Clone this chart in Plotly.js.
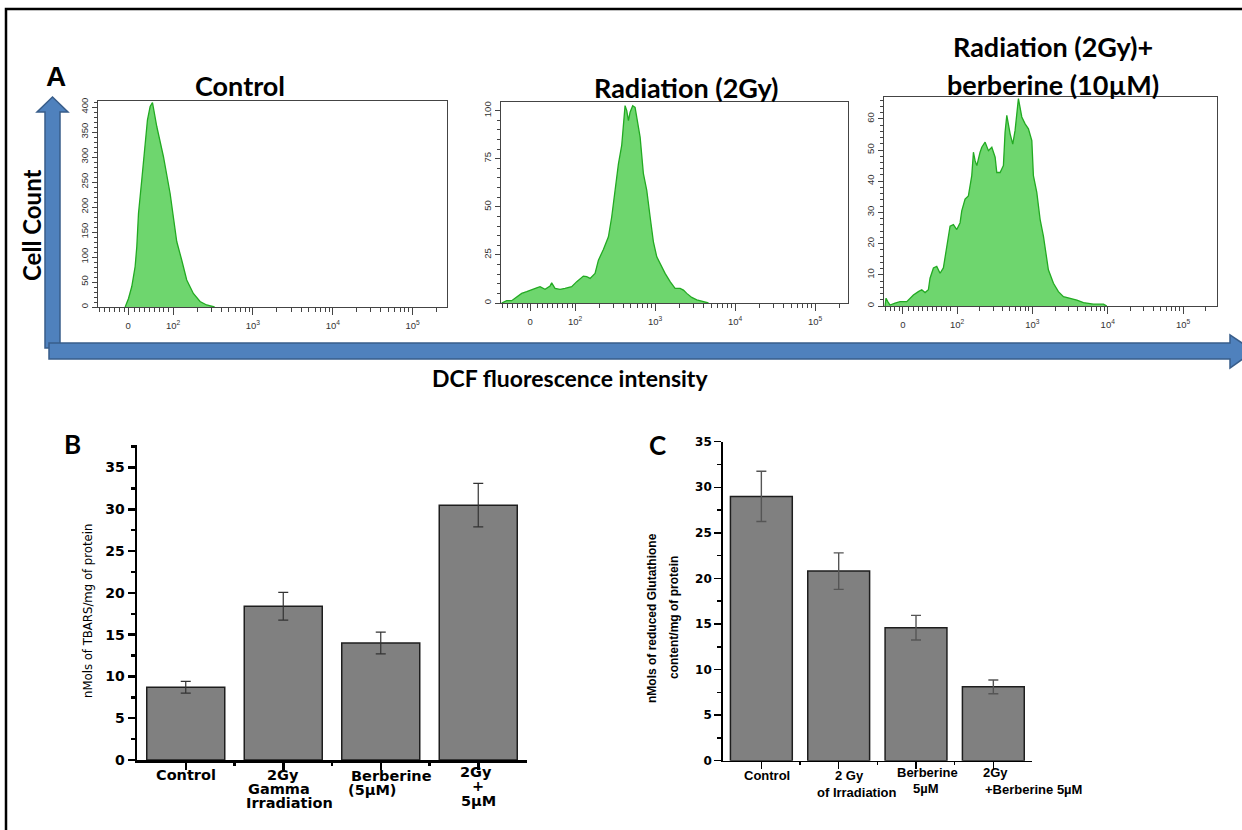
<!DOCTYPE html>
<html><head><meta charset="utf-8">
<script src="https://cdn.plot.ly/plotly-3.0.1.min.js"></script>
<style>body{margin:0;background:#fff}#g{width:1242px;height:830px}</style>
</head><body><div id="g"></div>
<script>
// ---------- DATA ----------
// Panel A: DCF histograms. x = position on the logicle display axis (decades), y = cell count
const ctrlX = [1.40,1.442,1.483,1.525,1.546,1.567,1.608,1.65,1.679,1.713,1.742,1.796,1.879,1.963,2.004,2.046,2.108,2.171,2.254,2.338,2.42,2.48,2.52];
const ctrlY = [0,17,41,81,121,187,254,327,374,401,409,361,301,227,174,131,94,54,27,11,4,1,0];

const radX = [1.083,1.146,1.208,1.271,1.333,1.396,1.458,1.521,1.563,1.625,1.688,1.708,1.75,1.813,1.875,1.958,2.021,2.104,2.146,2.188,2.25,2.292,2.354,2.417,2.458,2.5,2.542,2.583,2.604,2.625,2.646,2.667,2.688,2.72,2.75,2.79,2.813,2.854,2.896,2.938,2.979,3.021,3.083,3.125,3.188,3.25,3.313,3.354,3.396,3.458,3.521,3.604,3.667];
const radY = [0,1.2,1.2,2.9,5.0,5.9,6.7,7.9,8.5,7.1,8.8,10.5,7.6,7.1,7.6,8.5,11.1,14.0,13.7,12.8,15.4,22.3,27.8,34.4,44.7,58.5,72.3,81.9,93.1,102.6,100.0,94.8,99.2,102.6,101.7,93.1,86.2,67.2,58.5,44.7,31.8,24.0,18.9,15.4,11.1,7.6,7.6,6.7,5.0,2.9,1.6,0.7,0];

const comboX = [1.044,1.057,1.08,1.11,1.177,1.243,1.332,1.376,1.42,1.486,1.531,1.575,1.619,1.641,1.686,1.73,1.774,1.818,1.863,1.907,1.951,1.996,2.04,2.062,2.106,2.15,2.195,2.217,2.239,2.262,2.305,2.328,2.372,2.416,2.461,2.505,2.527,2.571,2.615,2.637,2.66,2.704,2.739,2.77,2.814,2.859,2.903,2.947,2.992,3.013,3.058,3.102,3.146,3.212,3.279,3.345,3.412,3.5,3.59,3.677,3.81,3.943,3.988];
const comboY = [0,2.5,1.4,0.3,0.9,1.4,1.4,2.5,3.5,4.6,5.2,4.3,5.2,8.9,12.2,12.7,10.5,12.2,19.1,25.6,26.1,24.5,26.7,30.5,34.3,35.3,41.8,49.3,46.6,45.0,49.3,50.9,52.5,49.8,50.9,47.7,42.8,42.8,45.0,55.7,61.1,55.2,51.9,56.3,66.5,60.6,58.4,56.8,53.0,41.8,36.4,27.8,22.4,11.6,7.3,4.6,3.0,2.5,1.9,1.1,0.6,0.6,0];

const histTitles = ['Control', 'Radiation (2Gy)', 'Radiation (2Gy)+', 'berberine (10µM)'];
const histTickText = ['0', '10<sup>2</sup>', '10<sup>3</sup>', '10<sup>4</sup>', '10<sup>5</sup>'];

// Panel B: TBARS
const catB = ['Control', '2Gy<br>Gamma<br>Irradiation', 'Berberine<br>(5µM)', '2Gy<br>+<br>5µM'];
const tbars = [8.7, 18.4, 14.0, 30.5];
const tbarsErr = [0.7, 1.65, 1.3, 2.6];

// Panel C: reduced glutathione
const catC = ['Control', '2 Gy<br>of Irradiation', 'Berberine<br>5µM', '2Gy<br>+Berberine 5µM'];
const gsh = [29.0, 20.8, 14.6, 8.1];
const gshErr = [2.75, 2.0, 1.35, 0.75];
const titleC = ['nMols of reduced Glutathione', 'content/mg of protein'];

// ---------- LAYOUT HELPERS ----------
const W = 1242, H = 830;
const PX = x => x / W, PY = y => 1 - y / H;
const pt = (x, y) => PX(x).toFixed(5) + ',' + PY(y).toFixed(5);

function minorTicks(lo, zero, hi) {
  const v = [];
  for (let d = lo + 0.02; d < 1.97; d += 0.062) {
    if (Math.abs(d - zero) > 0.03) v.push(+d.toFixed(3));
  }
  for (let dec = 2; dec <= 5; dec++) {
    for (let k = 2; k <= 9; k++) {
      const d = dec + Math.log10(k);
      if (d < hi) v.push(+d.toFixed(3));
    }
  }
  return v;
}

const histFill = 'rgb(110,214,110)', histLine = 'rgb(34,170,34)';
const tickFontSmall = {family: 'Liberation Sans, Arial, sans-serif', size: 9.5, color: '#333'};

function histX(dom, range, zero) {
  return {
    domain: [PX(dom[0]), PX(dom[1])], range: range, showline: true, mirror: true,
    linecolor: '#444', linewidth: 1, showgrid: false, zeroline: false,
    tickmode: 'array', tickvals: [zero, 2, 3, 4, 5], ticktext: histTickText,
    ticks: 'outside', ticklen: 7, tickcolor: '#444', tickwidth: 1, tickfont: tickFontSmall,
    ticklabelstandoff: 3,
    minor: {tickmode: 'array', tickvals: minorTicks(range[0], zero, range[1]), ticks: 'outside', ticklen: 4, tickcolor: '#444', tickwidth: 1}
  };
}
function histY(dom, range, dtick, mdtick) {
  return {
    domain: [PY(dom[1]), PY(dom[0])], range: range, showline: true, mirror: true,
    linecolor: '#444', linewidth: 1, showgrid: false, zeroline: false,
    tickmode: 'linear', tick0: 0, dtick: dtick, tickangle: -90,
    ticks: 'outside', ticklen: 5, tickcolor: '#444', tickfont: tickFontSmall,
    minor: {tickmode: 'linear', tick0: 0, dtick: mdtick, ticks: 'outside', ticklen: 3, tickcolor: '#444'}
  };
}

const traces = [
  {type: 'scatter', mode: 'lines', x: ctrlX, y: ctrlY, fill: 'tozeroy', fillcolor: histFill, line: {color: histLine, width: 1.3}, xaxis: 'x', yaxis: 'y'},
  {type: 'scatter', mode: 'lines', x: radX, y: radY, fill: 'tozeroy', fillcolor: histFill, line: {color: histLine, width: 1.3}, xaxis: 'x2', yaxis: 'y2'},
  {type: 'scatter', mode: 'lines', x: comboX, y: comboY, fill: 'tozeroy', fillcolor: histFill, line: {color: histLine, width: 1.3}, xaxis: 'x3', yaxis: 'y3'},
  {type: 'bar', x: catB.map((_, i) => i), y: tbars, width: 0.8, xaxis: 'x4', yaxis: 'y4',
   marker: {color: '#808080', line: {color: '#1e1e1e', width: 1.5}},
   error_y: {type: 'data', array: tbarsErr, visible: true, color: '#333', thickness: 1.2, width: 5}},
  {type: 'bar', x: catC.map((_, i) => i), y: gsh, width: 0.8, xaxis: 'x5', yaxis: 'y5',
   marker: {color: '#808080', line: {color: '#1e1e1e', width: 1.5}},
   error_y: {type: 'data', array: gshErr, visible: true, color: '#555', thickness: 1.4, width: 5}}
];

function barX(dom, lw) {
  return {
    domain: [PX(dom[0]), PX(dom[1])], range: [-0.5, 3.5], showline: true, linecolor: '#000', linewidth: lw,
    showgrid: false, zeroline: false, tickmode: 'array', tickvals: [0, 1, 2, 3], showticklabels: false,
    ticks: 'outside', ticklen: 7, tickwidth: lw, tickcolor: '#000',
    minor: {tickmode: 'array', tickvals: [0.5, 1.5, 2.5], ticks: 'outside', ticklen: 3, tickwidth: lw, tickcolor: '#000'}
  };
}
function barY(dom, range, lw, font) {
  return {
    domain: [PY(dom[1]), PY(dom[0])], range: range, showline: true, linecolor: '#000', linewidth: lw,
    showgrid: false, zeroline: false, tickmode: 'linear', tick0: 0, dtick: 5,
    ticks: 'outside', ticklen: 7, tickwidth: lw, tickcolor: '#000', tickfont: font,
    minor: {tickmode: 'linear', tick0: 0, dtick: 2.5, ticks: 'outside', ticklen: 4, tickwidth: lw, tickcolor: '#000'}
  };
}

const calibri = 'Lato, Open Sans, sans-serif';
const ann = [];
function txt(t, x, y, size, family, extra) {
  ann.push(Object.assign({text: t, x: PX(x), y: PY(y), xref: 'paper', yref: 'paper', showarrow: false,
    xanchor: 'center', yanchor: 'middle', font: {family: family, size: size, color: '#000', weight: 'bold'}}, extra || {}));
}
txt('A', 56, 77, 28, 'Liberation Sans, Arial, sans-serif');
txt(histTitles[0], 240, 86, 27, calibri);
txt(histTitles[1], 686, 88, 27, calibri);
txt(histTitles[2], 1053, 46, 27, calibri);
txt(histTitles[3], 1053, 84, 27, calibri);
txt('Cell Count', 31, 225, 24, calibri, {textangle: -90});
txt('DCF fluorescence intensity', 570, 378, 23, calibri);
txt('B', 72, 444, 26, calibri);
txt('C', 657, 445, 26, calibri);
ann.push({text: 'nMols of TBARS/mg of protein', x: PX(87), y: PY(611), xref: 'paper', yref: 'paper', showarrow: false,
  textangle: -90, xanchor: 'center', yanchor: 'middle',
  font: {family: 'Liberation Sans Narrow, Arial Narrow, DejaVu Sans Condensed, sans-serif', size: 13, color: '#000'}});
titleC.forEach((t, i) => {
  ann.push({text: t, x: PX(i === 0 ? 652 : 674), y: PY(618), xref: 'paper', yref: 'paper', showarrow: false,
    textangle: -90, xanchor: 'center', yanchor: 'middle',
    font: {family: 'Liberation Sans, Arial, sans-serif', size: 12, color: '#000', weight: 'bold'}});
});

// category labels, one annotation per line (dx = px shift from bar centre, y = px)
const posB = [[[0, 775]], [[0, 775], [-4, 789], [6, 803]], [[11, 776], [-9, 790]], [[-2, 772], [0, 786], [0, 801]]];
const posC = [[[6, 775]], [[11, 775], [18, 792]], [[11, 772], [10, 788]], [[2, 772], [40, 789]]];
function catLabels(cats, pos, xref, font) {
  cats.forEach((c, i) => {
    c.split('<br>').forEach((line, j) => {
      ann.push({text: line, x: i, xref: xref, xshift: pos[i][j][0], y: PY(pos[i][j][1]), yref: 'paper',
        showarrow: false, xanchor: 'center', yanchor: 'middle', font: font});
    });
  });
}
catLabels(catB, posB, 'x4', {family: 'DejaVu Sans, sans-serif', size: 14.5, color: '#000', weight: 'bold'});
catLabels(catC, posC, 'x5', {family: 'Liberation Sans, Arial, sans-serif', size: 13, color: '#000', weight: 'bold'});

const blue = '#4F81BD', blueEdge = '#385D8A';
const shapes = [
  {type: 'rect', xref: 'paper', yref: 'paper', x0: PX(6), y0: PY(9), x1: PX(1300), y1: PY(900), line: {color: '#000', width: 2.5}, fillcolor: 'rgba(0,0,0,0)', layer: 'below'},
  {type: 'path', xref: 'paper', yref: 'paper', fillcolor: blue, line: {color: blueEdge, width: 1.5},
   path: 'M' + pt(45, 348) + 'L' + pt(45, 112) + 'L' + pt(37, 112) + 'L' + pt(52.5, 97) + 'L' + pt(68, 112) + 'L' + pt(60, 112) + 'L' + pt(60, 348) + 'Z'},
  {type: 'path', xref: 'paper', yref: 'paper', fillcolor: blue, line: {color: blueEdge, width: 1.5},
   path: 'M' + pt(49, 343) + 'L' + pt(1230, 343) + 'L' + pt(1230, 335) + 'L' + pt(1254, 351) + 'L' + pt(1230, 368) + 'L' + pt(1230, 359) + 'L' + pt(49, 359) + 'Z'}
];

const layout = {
  width: W, height: H, margin: {l: 0, r: 0, t: 0, b: 0}, paper_bgcolor: '#fff', plot_bgcolor: '#fff',
  showlegend: false, bargap: 0.2,
  xaxis: histX([98, 447], [1.06, 5.43], 1.4375), yaxis: histY([101, 307], [0, 412], 50, 10),
  xaxis2: Object.assign(histX([501, 848], [1.075, 5.41], 1.4375), {anchor: 'y2'}), yaxis2: Object.assign(histY([102, 303], [0, 104.5], 25, 5), {anchor: 'x2'}),
  xaxis3: Object.assign(histX([884, 1217], [1.03, 5.45], 1.28), {anchor: 'y3'}), yaxis3: Object.assign(histY([97, 306], [0, 67], 10, 2), {anchor: 'x3'}),
  xaxis4: Object.assign(barX([137, 527], 2.5), {anchor: 'y4'}),
  yaxis4: Object.assign(barY([445, 760], [0, 37.7], 2.5, {family: 'DejaVu Sans, sans-serif', size: 14, color: '#000', weight: 'bold'}), {anchor: 'x4'}),
  xaxis5: Object.assign(barX([722.7, 1032], 1.5), {anchor: 'y5'}),
  yaxis5: Object.assign(barY([441.7, 760.7], [0, 35], 1.5, {family: 'DejaVu Sans, sans-serif', size: 12, color: '#000', weight: 'bold'}), {anchor: 'x5'}),
  annotations: ann, shapes: shapes
};
layout.xaxis.anchor = 'y'; layout.yaxis.anchor = 'x';

Plotly.newPlot('g', traces, layout, {staticPlot: true, displayModeBar: false});
</script>
</body></html>
